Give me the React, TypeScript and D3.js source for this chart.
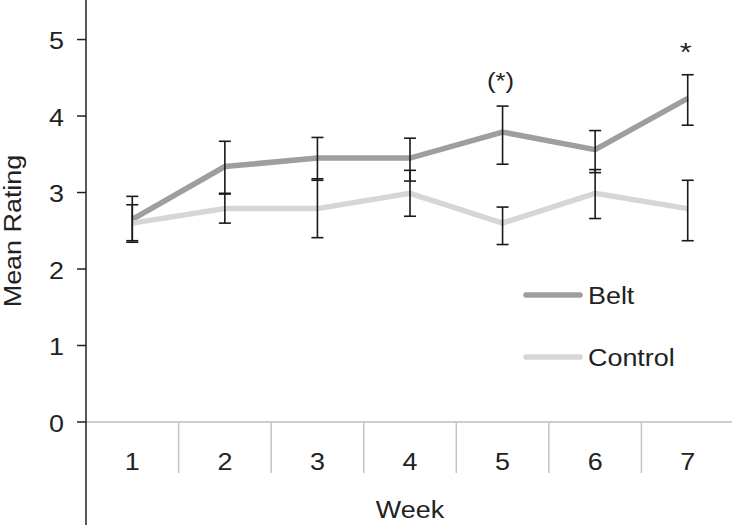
import React from "react";
import * as d3 from "d3";

const weeks = ["1", "2", "3", "4", "5", "6", "7"];
const beltMean = [2.65, 3.34, 3.45, 3.45, 3.79, 3.56, 4.23];
const beltLow = [2.35, 2.98, 3.16, 3.15, 3.37, 3.26, 3.88];
const beltHigh = [2.95, 3.67, 3.72, 3.71, 4.13, 3.81, 4.54];
const controlMean = [2.6, 2.79, 2.79, 2.99, 2.6, 2.99, 2.79];
const controlLow = [2.37, 2.6, 2.41, 2.69, 2.32, 2.66, 2.37];
const controlHigh = [2.84, 2.99, 3.18, 3.29, 2.81, 3.3, 3.16];
const yTicks = [0, 1, 2, 3, 4, 5];
const annotations = [
  { week: "5", text: "(*)", value: 4.5 },
  { week: "7", text: "*", value: 4.85 },
];

const W = 732;
const H = 525;
const FONT = "'Liberation Sans', Arial, sans-serif";
const SX = 1.17;
const FS = 23;

function T({ x, y, anchor = "start", rotate = 0, size = FS, children }: any) {
  return (
    <text
      transform={`translate(${x},${y}) rotate(${rotate}) scale(${SX},1)`}
      textAnchor={anchor}
      fontSize={size}
      fill="#222"
    >
      {children}
    </text>
  );
}

export default function App() {
  const x = d3.scaleBand<string>().domain(weeks).range([86, 734]);
  const y = d3.scaleLinear().domain([0, 5.5]).range([422, 1.3]);
  const cx = (w: string) => (x(w) as number) + x.bandwidth() / 2;

  const line = d3
    .line<number>()
    .x((_, i) => cx(weeks[i]))
    .y((v) => y(v));

  const series = [
    { name: "Belt", mean: beltMean, low: beltLow, high: beltHigh, color: "#9e9e9e" },
    { name: "Control", mean: controlMean, low: controlLow, high: controlHigh, color: "#d6d6d6" },
  ];

  const capW = 6;

  return (
    <svg
      width={W}
      height={H}
      style={{ position: "fixed", left: 0, top: 0, background: "#fff" }}
      fontFamily={FONT}
    >
      <rect width={W} height={H} fill="#fff" />
      {/* x axis line and category separators */}
      <line x1={86} x2={W} y1={y(0)} y2={y(0)} stroke="#bdbdbd" strokeWidth={1.5} />
      {weeks.slice(1).map((w) => (
        <line
          key={w}
          x1={x(w) as number}
          x2={x(w) as number}
          y1={y(0)}
          y2={473}
          stroke="#c4c4c4"
          strokeWidth={1.5}
        />
      ))}
      {weeks.map((w) => (
        <T key={w} x={cx(w)} y={469.5} anchor="middle">
          {w}
        </T>
      ))}
      <T x={cx("4")} y={518} anchor="middle">
        Week
      </T>

      {/* y axis */}
      <line x1={86} x2={86} y1={0} y2={H} stroke="#222" strokeWidth={1.5} />
      {yTicks.map((t) => (
        <g key={t}>
          <line x1={77} x2={86} y1={y(t)} y2={y(t)} stroke="#222" strokeWidth={1.5} />
          <T x={64} y={y(t) + 9.5} anchor="end">
            {t}
          </T>
        </g>
      ))}
      <T x={21} y={231} rotate={-90} anchor="middle">
        Mean Rating
      </T>

      {/* lines */}
      {series.map((s) => (
        <path
          key={s.name}
          d={line(s.mean) as string}
          fill="none"
          stroke={s.color}
          strokeWidth={5.5}
          strokeLinejoin="miter"
        />
      ))}
      {/* error bars */}
      {series.map((s) =>
        weeks.map((w, i) => (
          <g key={s.name + w} stroke="#1a1a1a" strokeWidth={1.6}>
            <line x1={cx(w)} x2={cx(w)} y1={y(s.low[i])} y2={y(s.high[i])} />
            <line x1={cx(w) - capW} x2={cx(w) + capW} y1={y(s.low[i])} y2={y(s.low[i])} />
            <line x1={cx(w) - capW} x2={cx(w) + capW} y1={y(s.high[i])} y2={y(s.high[i])} />
          </g>
        ))
      )}

      {/* annotations */}
      {annotations.map((a) => (
        <T key={a.week} x={cx(a.week) - 2} y={y(a.value) + 10} anchor="middle" size={a.text === "*" ? 26 : 22}>
          {a.text}
        </T>
      ))}

      {/* legend */}
      {series.map((s, i) => (
        <g key={s.name}>
          <line
            x1={526}
            x2={580}
            y1={295 + i * 62}
            y2={295 + i * 62}
            stroke={s.color}
            strokeWidth={5.5}
            strokeLinecap="round"
          />
          <T x={588} y={304 + i * 62}>
            {s.name}
          </T>
        </g>
      ))}
    </svg>
  );
}
